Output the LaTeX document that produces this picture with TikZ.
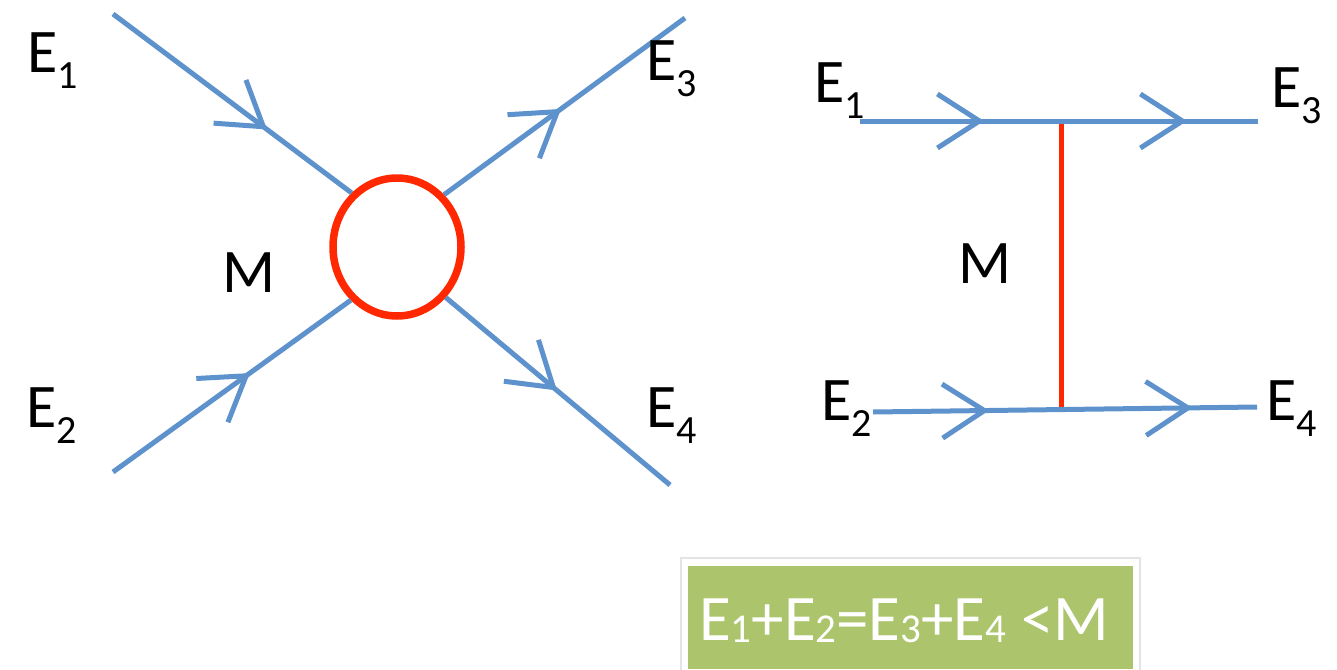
\documentclass[tikz,border=0pt]{standalone}
\usepackage{fontspec}
\setmainfont{Carlito}
\usetikzlibrary{decorations.markings,shapes.geometric}
\definecolor{wireblue}{RGB}{94,146,204}
\definecolor{massred}{RGB}{255,40,0}
\definecolor{boxgreen}{RGB}{172,197,108}
\definecolor{boxframe}{RGB}{228,228,228}
\newcommand\sbs[1]{\raisebox{-0.26em}{\fontsize{40}{40}\selectfont #1}}
\newcommand\bsbs[1]{\raisebox{-0.04em}{\fontsize{41}{41}\selectfont #1}}
\tikzset{
  wire/.style={draw=wireblue,line width=5pt},
  chevone/.style={postaction={decorate},decoration={markings,
     mark=at position #1 with {\draw[wire] (-42pt,27pt) -- (0pt,0pt) -- (-42pt,-27pt);}}},
  chevtwo/.style 2 args={postaction={decorate},decoration={markings,
     mark=at position #1 with {\draw[wire] (-42pt,27pt) -- (0pt,0pt) -- (-42pt,-27pt);},
     mark=at position #2 with {\draw[wire] (-42pt,27pt) -- (0pt,0pt) -- (-42pt,-27pt);}}},
  lab/.style={anchor=base west,inner sep=0pt,font=\fontsize{62}{70}\selectfont},
  mass/.style={draw=massred,line width=7.5pt,ellipse,minimum width=128pt,minimum height=138pt,inner sep=0pt},
}
\begin{document}
\begin{tikzpicture}[x=1pt,y=-1pt]
\useasboundingbox (0,0) rectangle (1337,669);
% left diagram
\node[mass] (c) at (397,247) {};
\coordinate (a1) at (113,14);
\coordinate (a2) at (113,472);
\coordinate (a3) at (685,18);
\coordinate (a4) at (670,485);
\draw[wire,chevone=0.63] (a1) -- (c.130);
\draw[wire,chevone=0.56] (a2) -- (c.229);
\draw[wire,chevone=0.47] (c.48) -- (a3);
\draw[wire,chevone=0.48] (c.314) -- (a4);
\node[lab] (le1) at (27,72) {E\sbs{1}};
\node[lab] (le2) at (26,427) {E\sbs{2}};
\node[lab] (lm) at (222,292) {M};
\node[lab] (le3) at (646,80) {E\sbs{3}};
\node[lab] (le4) at (646,427) {E\sbs{4}};
% right diagram
\coordinate (b1) at (860,121);
\coordinate (b3) at (1258,121);
\coordinate (b2) at (873,412);
\coordinate (b4) at (1257,407);
\coordinate (vt) at (1061,121);
\coordinate (vb) at (1061,409.5);
\draw[massred,line width=5pt] (vt) -- (vb);
\draw[wire,chevtwo={0.30}{0.81}] (b1) -- (b3);
\draw[wire,chevtwo={0.29}{0.82}] (b2) -- (b4);
\node[lab] (re1) at (814,102) {E\sbs{1}};
\node[lab] (re3) at (1271,107) {E\sbs{3}};
\node[lab] (rm) at (958,283) {M};
\node[lab] (re2) at (821,420) {E\sbs{2}};
\node[lab] (re4) at (1266,420) {E\sbs{4}};
% equation box
\draw[boxframe,line width=2pt] (681,558) rectangle (1140,680);
\fill[boxgreen] (688,566) rectangle (1133,669);
\node[anchor=base west,inner sep=0pt,text=white,font=\fontsize{65}{72}\selectfont] (eq) at (699,640)
  {E\bsbs{1}+E\bsbs{2}=E\bsbs{3}+E\bsbs{4} <M};
\end{tikzpicture}
\end{document}
